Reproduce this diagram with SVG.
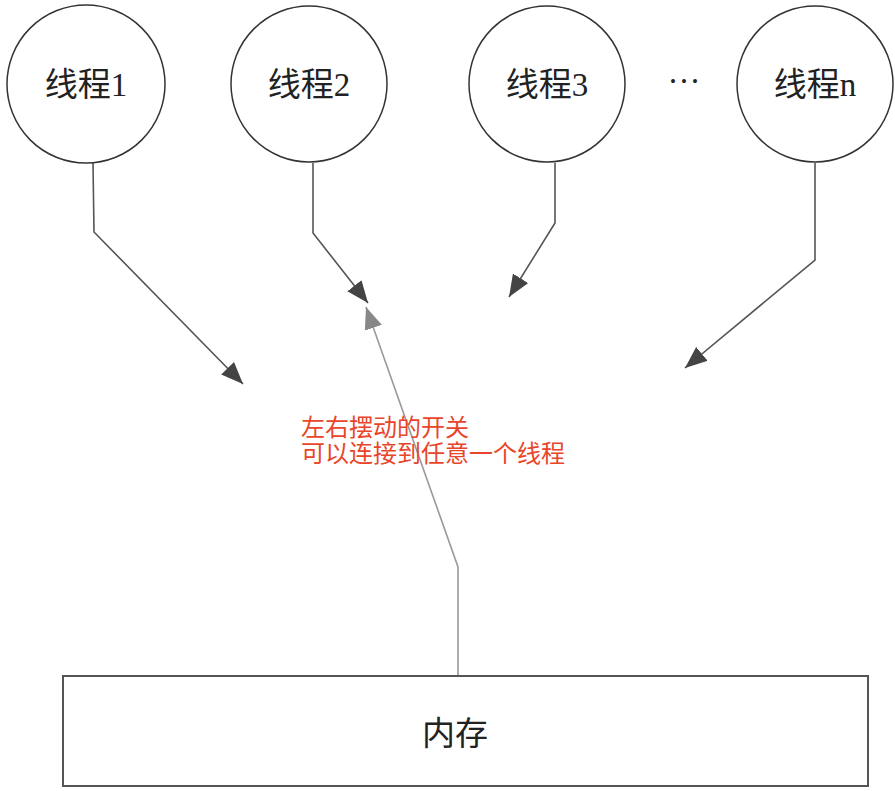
<svg xmlns="http://www.w3.org/2000/svg" width="895" height="791" viewBox="0 0 895 791">
<style>
.node circle{fill:#fff;stroke:#333;stroke-width:1.5}
.node rect{fill:#fff;stroke:#555;stroke-width:2}
.lbl{font-family:"Liberation Serif","Noto Sans CJK SC",serif;font-size:33px;fill:#222;text-anchor:middle}
.conn{fill:none;stroke:#555;stroke-width:1.6}
.sw{fill:none;stroke:#999;stroke-width:1.6}
.note{font-family:"Noto Sans CJK SC","Noto Sans",sans-serif;font-size:24px;fill:#e8452a}
</style>
<defs>
<marker id="ah" markerUnits="userSpaceOnUse" markerWidth="24" markerHeight="20" refX="22" refY="9" orient="auto"><path d="M0,0 L22,9 L0,18 z" fill="#444"/></marker>
<marker id="ahg" markerUnits="userSpaceOnUse" markerWidth="24" markerHeight="20" refX="22" refY="9" orient="auto"><path d="M0,0 L22,9 L0,18 z" fill="#888"/></marker>
</defs>
<rect width="895" height="791" fill="#fff"/>
<g id="connectors">
<polyline class="conn" points="93,163 94,232 243,384" marker-end="url(#ah)"/>
<polyline class="conn" points="313,163 313,233 368,303" marker-end="url(#ah)"/>
<polyline class="conn" points="555,163 555,223 509,297" marker-end="url(#ah)"/>
<polyline class="conn" points="815,163 815,260 685,368" marker-end="url(#ah)"/>
<polyline class="sw" points="458,676 458,567 366,307" marker-end="url(#ahg)"/>
</g>
<g id="thread1" class="node"><circle cx="86" cy="84" r="79"/><text class="lbl" x="86" y="96">线程1</text></g>
<g id="thread2" class="node"><circle cx="309" cy="84" r="78"/><text class="lbl" x="309" y="96">线程2</text></g>
<g id="thread3" class="node"><circle cx="547" cy="84" r="78"/><text class="lbl" x="547" y="96">线程3</text></g>
<g id="ellipsis"><text class="lbl" x="684" y="92">···</text></g>
<g id="threadn" class="node"><circle cx="815" cy="84" r="78"/><text class="lbl" x="815" y="96">线程n</text></g>
<g id="memory" class="node"><rect x="63" y="676" width="805" height="110"/><text class="lbl" x="455" y="745">内存</text></g>
<g id="note"><text class="note"><tspan x="301" y="436">左右摆动的开关</tspan><tspan x="301" y="462">可以连接到任意一个线程</tspan></text></g>
</svg>
